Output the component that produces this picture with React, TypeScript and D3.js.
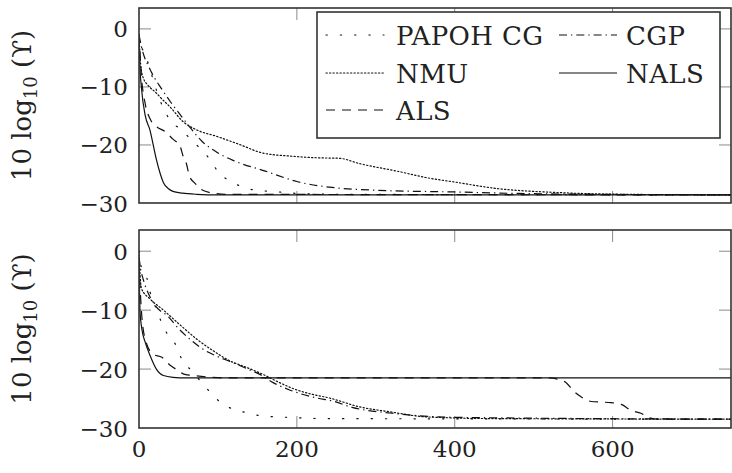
import React from "react";
import * as d3 from "d3";

// Iteration count (x) and 10·log10(Υ) in dB (y), one pair of arrays per curve.
const X_TICKS = [0, 200, 400, 600];
const Y_TICKS = [0, -10, -20, -30];
const X_MAX = 750;
const Y_DOMAIN: [number, number] = [-30, 3.6];

// ---- upper panel ----
const topPapohIt = [0, 3, 7.5, 14, 22, 31, 41, 54, 66, 79, 90, 100, 115, 131, 148, 169, 186, 207, 250, 750];
const topPapohVal = [-1, -3, -4.2, -7, -10.5, -13.7, -16, -17.4, -19.1, -20.8, -22.5, -24.6, -26.2, -27.2, -27.8, -28.0, -28.2, -28.4, -28.5, -28.6];

const topCgpIt = [0, 3, 6, 12, 19, 28, 40, 54, 66, 80, 98, 120, 160, 200, 250, 300, 400, 500, 750];
const topCgpVal = [-1, -3, -4.5, -6.4, -8.3, -10.2, -12.6, -15.1, -17.2, -19.4, -21.2, -22.7, -24.5, -26.3, -27.4, -27.8, -28.1, -28.4, -28.6];

const topNmuIt = [0, 2, 5, 12, 20, 30, 39, 56, 73, 98, 127, 157, 190, 224, 254, 279, 330, 363, 405, 447, 531, 615, 750];
const topNmuVal = [-1, -6, -8.3, -9.8, -10.8, -12.2, -13.4, -16, -17.4, -18.5, -19.9, -21.4, -21.9, -22.2, -22.3, -23.2, -24.6, -25.6, -26.5, -27.4, -28.2, -28.5, -28.6];

const topNalsIt = [0, 1, 3, 8, 14, 18, 22, 27, 31, 37, 43, 55, 73, 100, 750];
const topNalsVal = [-1, -6, -10, -15, -17.5, -20, -22.5, -25, -26.5, -27.5, -28, -28.3, -28.5, -28.6, -28.6];

const topAlsIt = [0, 3, 8, 14, 22, 33, 43, 52, 56, 60, 64, 71, 78, 90, 110, 750];
const topAlsVal = [-1, -8, -13, -15.5, -16.8, -17.7, -19, -20.2, -22, -23.2, -25.4, -26.6, -27.6, -28.2, -28.5, -28.6];

// ---- lower panel ----
const botPapohIt = [0, 1, 5, 10, 14, 21, 28.6, 37, 47, 54, 66, 77, 90, 102, 119, 136, 153, 172, 191, 230, 750];
const botPapohVal = [0, -1.7, -3.2, -4.6, -6.9, -9.5, -12.1, -14.3, -16, -18.3, -20.2, -21.9, -23.9, -25.5, -26.8, -27.4, -27.9, -28.1, -28.2, -28.4, -28.5];

const botCgpIt = [0, 2, 5, 20, 37, 50, 66, 83, 100, 119, 136, 153, 170, 190, 225, 245, 270, 321, 405, 750];
const botCgpVal = [-1, -3, -4.6, -9.1, -11.1, -13.1, -15.1, -16.8, -17.9, -18.9, -19.9, -20.9, -22.3, -23.5, -24.9, -25.4, -26.5, -27.5, -28.2, -28.5];

const botNmuIt = [0, 1, 3, 14, 31, 52, 73, 94, 115, 136, 157, 178, 199, 220, 241, 279, 320, 363, 447, 750];
const botNmuVal = [0, -3, -6.3, -8.1, -10, -12.5, -14.9, -16.9, -18.6, -19.7, -20.9, -22.3, -23.5, -24.3, -24.9, -26.4, -27.3, -28.1, -28.4, -28.5];

const botNalsIt = [0, 1.3, 4, 7.5, 14, 22, 31, 43, 60, 750];
const botNalsVal = [-1, -10.2, -13.5, -15.3, -17.7, -20, -21.1, -21.4, -21.5, -21.5];

const botAlsIt = [0, 3, 8, 18, 29, 39, 49, 58, 70, 84, 110, 520, 530, 540, 552, 560, 573, 585, 598, 611, 623, 636, 645, 660, 750];
const botAlsVal = [-2, -10, -15, -17.5, -18, -19.3, -20.2, -20.9, -21.1, -21.3, -21.5, -21.5, -21.7, -22.2, -23.9, -24.7, -25.5, -25.6, -25.7, -26, -27, -27.5, -28.2, -28.5, -28.5];

type Series = { name: string; it: number[]; val: number[] };

const topSeries: Series[] = [
  { name: "PAPOH CG", it: topPapohIt, val: topPapohVal },
  { name: "NMU", it: topNmuIt, val: topNmuVal },
  { name: "ALS", it: topAlsIt, val: topAlsVal },
  { name: "CGP", it: topCgpIt, val: topCgpVal },
  { name: "NALS", it: topNalsIt, val: topNalsVal },
];
const botSeries: Series[] = [
  { name: "PAPOH CG", it: botPapohIt, val: botPapohVal },
  { name: "NMU", it: botNmuIt, val: botNmuVal },
  { name: "ALS", it: botAlsIt, val: botAlsVal },
  { name: "CGP", it: botCgpIt, val: botCgpVal },
  { name: "NALS", it: botNalsIt, val: botNalsVal },
];

const DASH: Record<string, string> = {
  "PAPOH CG": "1.3 13",
  NMU: "1.3 2.2",
  ALS: "9 7",
  CGP: "8 4 1.3 4",
  NALS: "none",
};
const ROUND = new Set(["PAPOH CG", "NMU"]);

const FONT = "'DejaVu Serif', serif";
const W = 732;
const H = 473;
const X0 = 139;
const X1 = 731;
const PANELS = [
  { top: 8, bottom: 203, series: topSeries, legend: true, id: "p0" },
  { top: 230, bottom: 428, series: botSeries, legend: false, id: "p1" },
];

function Panel({ top, bottom, series, legend, id, showX }: any) {
  const x = d3.scaleLinear().domain([0, X_MAX]).range([X0, X1]);
  const y = d3.scaleLinear().domain(Y_DOMAIN).range([bottom, top]);
  const line = d3
    .line<[number, number]>()
    .x((d) => x(d[0]))
    .y((d) => y(d[1]))
    .curve(d3.curveMonotoneX);
  const tickLen = 12;
  const innerY = Y_TICKS.filter((t) => t > Y_DOMAIN[0]);
  const innerX = X_TICKS.filter((t) => t > 0);
  const mid = (top + bottom) / 2;

  // legend layout
  const lx = 317, ly = 12, lw = 403, lh = 126;
  const rows = [35, 73, 110];
  const cols = [
    { l0: 326, l1: 384, tx: 396 },
    { l0: 559, l1: 617, tx: 626 },
  ];
  const cells = [
    { name: "PAPOH CG", c: 0, r: 0 },
    { name: "CGP", c: 1, r: 0 },
    { name: "NMU", c: 0, r: 1 },
    { name: "NALS", c: 1, r: 1 },
    { name: "ALS", c: 0, r: 2 },
  ];

  return (
    <g>
      <defs>
        <clipPath id={`clip-${id}`}>
          <rect x={X0} y={top} width={X1 - X0} height={bottom - top} />
        </clipPath>
      </defs>
      {/* inward ticks on all four sides */}
      <g stroke="#8a8a8a" strokeWidth={1}>
        {innerY.map((t) => (
          <g key={`y${t}`}>
            <line x1={X0} x2={X0 + tickLen} y1={y(t)} y2={y(t)} />
            <line x1={X1 - tickLen} x2={X1} y1={y(t)} y2={y(t)} />
          </g>
        ))}
        {innerX.map((t) => (
          <g key={`x${t}`}>
            <line x1={x(t)} x2={x(t)} y1={bottom} y2={bottom - tickLen} />
            <line x1={x(t)} x2={x(t)} y1={top} y2={top + tickLen} />
          </g>
        ))}
      </g>
      <g clipPath={`url(#clip-${id})`} fill="none" stroke="#111" strokeWidth={1.2}>
        {series.map((s: Series) => (
          <path
            key={s.name}
            d={line(s.it.map((v, i) => [v, s.val[i]] as [number, number])) || ""}
            strokeDasharray={DASH[s.name]}
            strokeLinecap={ROUND.has(s.name) ? "round" : "butt"}
          />
        ))}
      </g>
      <rect x={X0} y={top} width={X1 - X0} height={bottom - top} fill="none" stroke="#333" strokeWidth={1.6} />
      {/* y tick labels */}
      <g fontFamily={FONT} fontSize={23} fill="#222" textAnchor="end">
        {Y_TICKS.map((t) => (
          <text key={t} x={128} y={y(t) + 8.5}>
            {t < 0 ? `\u2212${-t}` : `${t}`}
          </text>
        ))}
      </g>
      {showX && (
        <g fontFamily={FONT} fontSize={23} fill="#222" textAnchor="middle">
          {X_TICKS.map((t) => (
            <text key={t} x={x(t)} y={457}>
              {t}
            </text>
          ))}
        </g>
      )}
      {/* y axis title */}
      <text
        transform={`translate(31,${mid}) rotate(-90)`}
        fontFamily={FONT}
        fontSize={26}
        fill="#222"
        textAnchor="middle"
      >
        10 log
        <tspan fontSize={18} dy={6}>10</tspan>
        <tspan dy={-6}> (ϒ)</tspan>
      </text>
      {legend && (
        <g>
          <rect x={lx} y={ly} width={lw} height={lh} fill="#fff" stroke="#333" strokeWidth={1.6} />
          {cells.map((c) => {
            const col = cols[c.c];
            const yy = rows[c.r];
            return (
              <g key={c.name}>
                <line
                  x1={col.l0}
                  x2={col.l1}
                  y1={yy}
                  y2={yy}
                  stroke="#111"
                  strokeWidth={1.2}
                  strokeDasharray={DASH[c.name]}
                  strokeLinecap={ROUND.has(c.name) ? "round" : "butt"}
                />
                <text x={col.tx} y={yy + 9.5} fontFamily={FONT} fontSize={26} letterSpacing={0.4} fill="#222">
                  {c.name}
                </text>
              </g>
            );
          })}
        </g>
      )}
    </g>
  );
}

export default function App() {
  return (
    <svg width={W} height={H} style={{ position: "absolute", left: 0, top: 0, background: "#fff" }}>
      {PANELS.map((p, i) => (
        <Panel key={p.id} {...p} showX={i === 1} />
      ))}
    </svg>
  );
}
